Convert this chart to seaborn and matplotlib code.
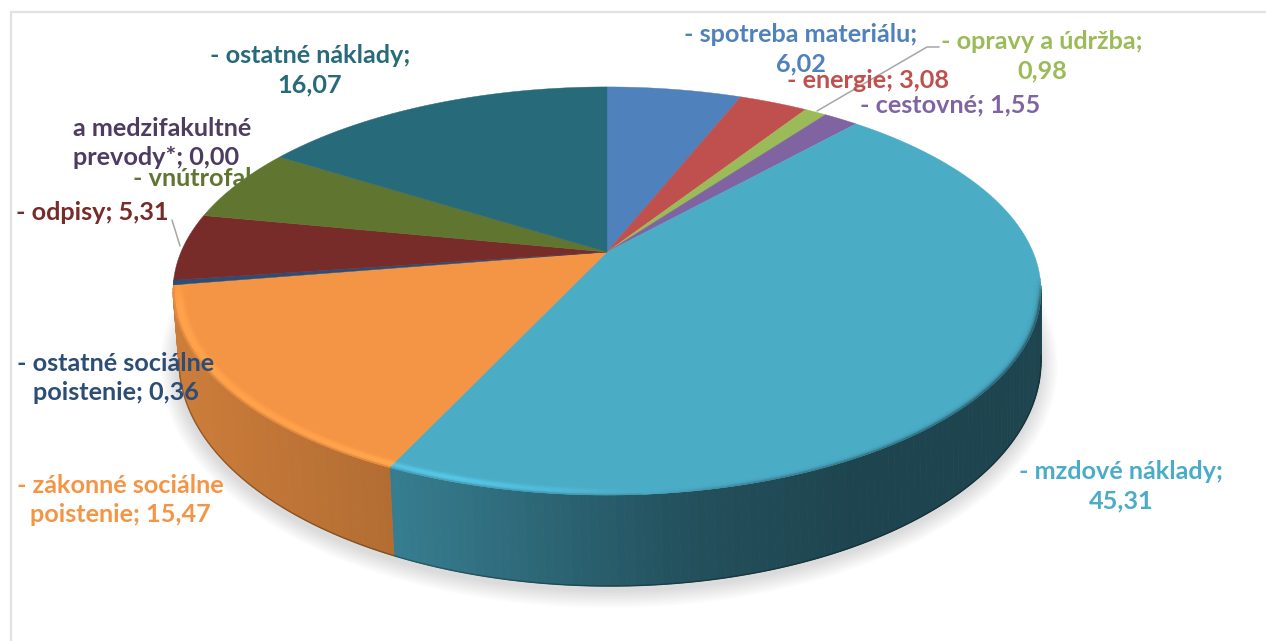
import numpy as np
import matplotlib
matplotlib.use("Agg")
import matplotlib.pyplot as plt
from matplotlib.collections import PolyCollection, LineCollection
from matplotlib.colors import to_rgb
import seaborn as sns

# ---------- data ----------
names = ["- spotreba materiálu;", "- energie;", "- opravy a údržba;", "- cestovné;",
         "- mzdové náklady;", "- zákonné sociálne\npoistenie;", "- ostatné sociálne\npoistenie;",
         "- odpisy;", "- vnútrofakultné", "a medzifakultné\nprevody*;", "- ostatné náklady;"]
values = [6.02, 3.08, 0.98, 1.55, 45.31, 15.47, 0.36, 5.31, 5.85, 0.00, 16.07]
show_value = [True, True, True, True, True, True, True, True, False, True, True]
break_before_value = [True, False, True, False, True, False, False, False, False, False, True]
colors = ["#4F81BD", "#C0504D", "#9BBB59", "#8064A2", "#4BACC6", "#F49545",
          "#2C4D75", "#772C2A", "#5F7530", "#4D3B62", "#276A7A"]
label_x = [801, 868, 1042, 950, 1121, 120, 116, 92, 133, 73, 310]
label_y = [49, 81, 56, 105, 486, 500, 378, 213, 179, 143, 70]
label_ha = ["center"] * 8 + ["left", "left", "center"]

# ---------- style ----------
sns.set_theme(style="white", palette=sns.color_palette(colors))
plt.rcParams["font.family"] = ["Lato", "DejaVu Sans"]
W, H = 1266, 641
fig, ax = plt.subplots(figsize=(W / 100, H / 100), dpi=100)
fig.subplots_adjust(0, 0, 1, 1)
ax.set_xlim(0, W)
ax.set_ylim(H, 0)
ax.axis("off")

# ---------- pie geometry (perspective view of a disc) ----------
AX, AY, A, B, K = 607.0, 252.0, 426.0, 196.6, 0.191
ECX, ECY, ERX, ERY = 606.0, 291.0, 434.0, 204.0
BCX, BCY, BRX, BRY = 609.0, 361.0, 431.0, 225.0


def top_pt(theta, r=1.0):
    x, y = r * np.sin(theta), r * np.cos(theta)
    d = 1 + K * y
    return AX + A * x / d, AY - B * y / d


def bottom_pt(theta):
    sx, sy = top_pt(theta)
    u, v = (sx - ECX) / ERX, (sy - ECY) / ERY
    return BCX + BRX * u, BCY + BRY * v


def side_shade(x):
    return np.interp(x, [172, 390, 680, 850, 1040], [0.84, 0.73, 0.47, 0.40, 0.40])


def rim_light(x):
    return np.interp(x, [172, 300, 450, 560, 640, 750, 1040],
                     [0.6, 0.6, 1.0, 0.5, 0.0, -0.3, -0.6])


fracs = np.array(values) / sum(values)
edges = np.concatenate([[0], np.cumsum(fracs)]) * 2 * np.pi

# soft shadow
for k in np.arange(18, 0, -1.5):
    t = np.linspace(0, 2 * np.pi, 300)
    ax.fill(BCX + (BRX + k) * np.cos(t), BCY + 4 + (BRY + k) * np.sin(t),
            color="#000000", alpha=0.012, lw=0, zorder=1)

# side wall
polys, cols, base_lines, base_cols = [], [], [], []
for a0, a1, c in zip(edges[:-1], edges[1:], colors):
    if a1 - a0 <= 0:
        continue
    base = np.array(to_rgb(c))
    ts = np.linspace(a0, a1, max(2, int((a1 - a0) * 180 / np.pi) + 2))
    for t0, t1 in zip(ts[:-1], ts[1:]):
        x0, y0 = top_pt(t0)
        x1, y1 = top_pt(t1)
        if (y0 + y1) / 2 < ECY - 4:
            continue
        bx0, by0 = bottom_pt(t0)
        bx1, by1 = bottom_pt(t1)
        polys.append([(x0, y0), (x1, y1), (bx1, by1), (bx0, by0)])
        col = base * side_shade((x0 + x1) / 2)
        cols.append(col)
        base_lines.append([(bx0, by0), (bx1, by1)])
        base_cols.append(col * 0.72)
ax.add_collection(PolyCollection(polys, facecolors=cols, edgecolors=cols, linewidths=0.6, zorder=2))
ax.add_collection(LineCollection(base_lines, colors=base_cols, linewidths=1.0, zorder=2.5))

# top face
for a0, a1, c in zip(edges[:-1], edges[1:], colors):
    if a1 - a0 <= 0:
        continue
    ts = np.linspace(a0, a1, max(2, int((a1 - a0) * 180 / np.pi) + 2))
    xs, ys = top_pt(ts)
    ax.fill(np.r_[AX, xs], np.r_[AY, ys], color=c, lw=0.3, zorder=3)

# bevel on the front rim
polys, cols = [], []
rs = np.linspace(0.968, 1.0, 11)
for a0, a1, c in zip(edges[:-1], edges[1:], colors):
    if a1 - a0 <= 0:
        continue
    base = np.array(to_rgb(c))
    ts = np.linspace(a0, a1, max(2, int((a1 - a0) * 180 / np.pi) + 2))
    for t0, t1 in zip(ts[:-1], ts[1:]):
        xm, ym = top_pt((t0 + t1) / 2)
        if ym < ECY - 12:
            continue
        fade = np.clip((ym - ECY + 12) / 24, 0, 1)
        L = rim_light(xm) * fade
        for r0, r1 in zip(rs[:-1], rs[1:]):
            w = ((r0 + r1) / 2 - rs[0]) / (rs[-1] - rs[0])
            if L >= 0:
                f = 1 + 0.18 * L * np.exp(-((w - 0.62) / 0.3) ** 2)
                f *= 1 - 0.16 * fade * np.clip((w - 0.85) / 0.15, 0, 1)
            else:
                f = 1 + L * w ** 7
            a = top_pt(t0, r0)
            b = top_pt(t1, r0)
            d = top_pt(t1, r1)
            e = top_pt(t0, r1)
            polys.append([a, b, d, e])
            cols.append(np.clip(base * f, 0, 1))
ax.add_collection(PolyCollection(polys, facecolors=cols, edgecolors=cols, linewidths=0.3, zorder=4))

# frame
ax.plot([11, 11, W], [H, 12, 12], color="#E2E2E2", lw=1.6, zorder=0, solid_joinstyle="miter")

# leader lines
ax.plot([817, 927, 939], [111, 47, 47], color="#A6A6A6", lw=1.1, zorder=5)
ax.plot([172, 180], [220, 246], color="#A6A6A6", lw=1.1, zorder=5)

# labels
for name, val, show, brk, c, x, y, ha in zip(names, values, show_value, break_before_value,
                                            colors, label_x, label_y, label_ha):
    txt = name
    if show:
        txt += ("\n" if brk else " ") + f"{val:.2f}".replace(".", ",")
    ax.text(x, y, txt, color=c, ha=ha, va="center", fontsize=18.2, fontweight="bold",
            linespacing=1.34, zorder=6)

fig.savefig("out.png", dpi=100, facecolor="white")
